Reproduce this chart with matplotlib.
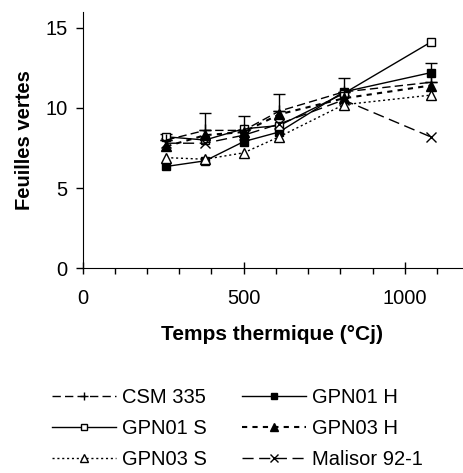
import matplotlib
matplotlib.use("Agg")
import matplotlib.pyplot as plt
from matplotlib.lines import Line2D
import numpy as np

plt.rcParams['font.family'] = ['Liberation Sans', 'DejaVu Sans']

temps = [260, 380, 500, 610, 810, 1080]
csm335 = [8.0, 8.6, 8.6, 9.8, 11.0, 11.6]
csm335_err = [0.4, 1.1, 0.9, 1.1, 0.9, 1.2]
gpn01h = [6.35, 6.7, 7.9, 8.5, 11.0, 12.2]
gpn01s = [8.2, 8.0, 8.7, 8.9, 10.9, 14.1]
gpn03h = [7.6, 8.3, 8.5, 9.6, 10.6, 11.4]
gpn03s = [6.9, 6.8, 7.2, 8.2, 10.2, 10.8]
malisor = [7.8, 7.8, 8.3, 9.0, 10.5, 8.2]

labels = ["CSM 335", "GPN01 H", "GPN01 S", "GPN03 H", "GPN03 S", "Malisor 92-1"]

fig = plt.figure(figsize=(4.64, 4.73), dpi=100)
ax = fig.add_axes([0.178, 0.433, 0.818, 0.542])

lw = 1.0
csm_style = dict(color='black', ls=(0, (6, 3)), lw=lw, marker='+', ms=8, mew=1.0)
ax.errorbar(temps, csm335, yerr=[np.zeros(len(csm335)), csm335_err],
            capsize=4, elinewidth=1.0, **csm_style)
h1 = Line2D([], [], **csm_style)
h2, = ax.plot(temps, gpn01h, color='black', ls='-', lw=lw, marker='s', ms=6,
              mfc='black', label=labels[1])
h3, = ax.plot(temps, gpn01s, color='black', ls='-', lw=lw, marker='s', ms=6,
              mfc='white', label=labels[2])
h4, = ax.plot(temps, gpn03h, color='black', ls=(0, (2.5, 2.5)), lw=1.5, marker='^', ms=7,
              mfc='black', label=labels[3])
h5, = ax.plot(temps, gpn03s, color='black', ls=(0, (1.5, 2)), lw=1.0, marker='^', ms=7,
              mfc='white', label=labels[4])
h6, = ax.plot(temps, malisor, color='black', ls=(0, (8, 4)), lw=lw, marker='x', ms=7,
              mew=1.0, label=labels[5])

ax.set_xlim(0, 1178)
ax.set_ylim(0, 16)
ax.set_xticks([0, 500, 1000])
ax.set_xticks(np.arange(0, 1200, 100), minor=True)
ax.set_yticks([0, 5, 10, 15])
ax.tick_params(axis='x', which='major', direction='inout', length=8, width=1, labelsize=14.5, pad=11)
ax.tick_params(axis='x', which='minor', direction='out', length=4, width=1)
ax.tick_params(axis='y', which='major', direction='out', length=5, width=1, labelsize=14.5, pad=6)
for s in ['top', 'right']:
    ax.spines[s].set_visible(False)
ax.set_xlabel("Temps thermique (°Cj)", fontsize=15, fontweight='bold', labelpad=12)
ax.set_ylabel("Feuilles vertes", fontsize=14.5, fontweight='bold', labelpad=8)

leg = fig.legend([h1, h3, h5, h2, h4, h6],
                 [labels[0], labels[2], labels[4], labels[1], labels[3], labels[5]],
                 ncol=2, loc='upper left', bbox_to_anchor=(0.073, 0.218), frameon=False,
                 fontsize=14.5, handlelength=3.2, handletextpad=0.3, columnspacing=1.7,
                 labelspacing=0.6, markerscale=0.8, borderpad=0.4)

fig.savefig("out.png", dpi=100)
